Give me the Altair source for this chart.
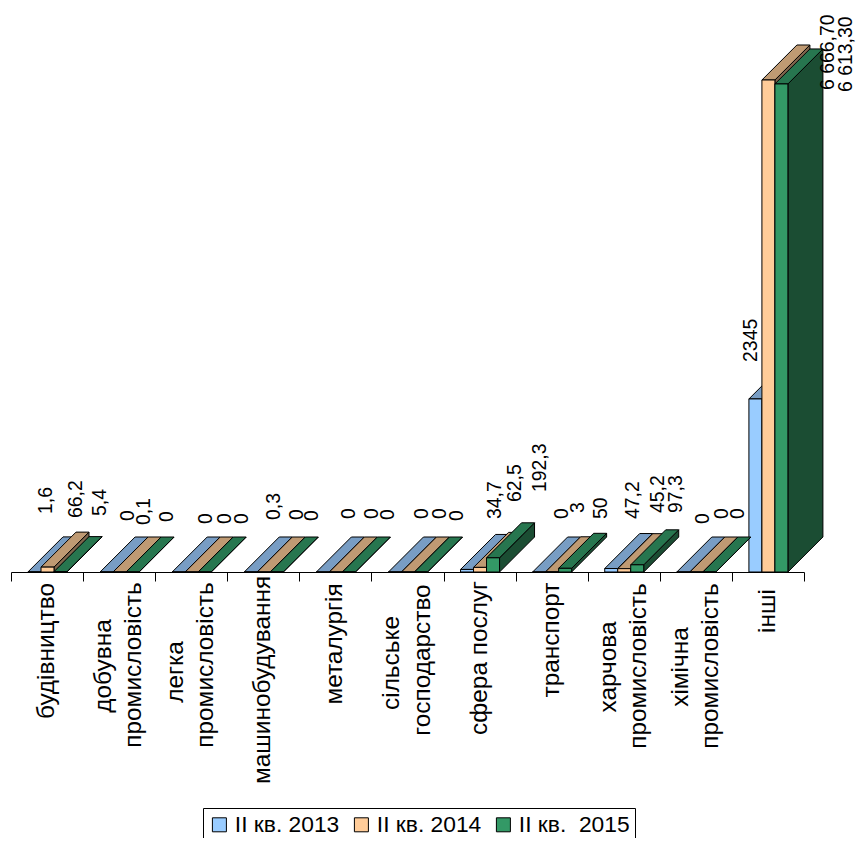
import altair as alt
import pandas as pd

categories = [
    ["будівництво"], ["добувна", "промисловість"], ["легка", "промисловість"],
    ["машинобудування"], ["металургія"], ["сільське", "господарство"],
    ["сфера послуг"], ["транспорт"], ["харчова", "промисловість"],
    ["хімічна", "промисловість"], ["інші"],
]
series = ["ІІ кв. 2013", "ІІ кв. 2014", "ІІ кв.\u00a0 2015\u00a0"]
values_2013 = [1.6, 0, 0, 0.3, 0, 0, 34.7, 0, 47.2, 0, 2345]
values_2014 = [66.2, 0.1, 0, 0, 0, 0, 62.5, 3, 45.2, 0, 6666.7]
values_2015 = [5.4, 0, 0, 0, 0, 0, 192.3, 50, 97.3, 0, 6613.3]
texts_2013 = ["1,6", "0", "0", "0,3", "0", "0", "34,7", "0", "47,2", "0", "2345"]
texts_2014 = ["66,2", "0,1", "0", "0", "0", "0", "62,5", "3", "45,2", "0", "6 666,70"]
texts_2015 = ["5,4", "0", "0", "0", "0", "0", "192,3", "50", "97,3", "0", "6 613,30"]

# label placement relative to each bar (px along x, px above the bar's front top)
label_dx = [
    [11.5, 28.5, 39.5], [21.4, 24.4, 34.4], [27.3, 33.3, 37.3], [23.2, 33.2, 35.2],
    [26.1, 36.1, 39.1], [27, 32, 36], [27.9, 34.9, 46.9], [22.8, 25.8, 35.8],
    [21.7, 33.7, 38.7], [19.6, 25.6, 28.6], [-4.5, 60, 64.5],
]
label_rise = [
    [57.9, 49.1, 55.6], [51, 47, 50], [48, 48, 48], [52, 52, 51],
    [53, 53, 52], [53, 53, 51], [50.4, 65.4, 65.8], [53, 58.8, 49.3],
    [49.5, 55.7, 51.8], [48, 53, 53], [37, -10, -8],
]
# distance of each category label's centre below the axis line, px
cat_label_drop = [
    [79], [94, 93], [100, 93], [108], [72], [91, 88], [86], [68], [95, 94], [95, 94], [39],
]

fronts = ["#99CCFF", "#FFCC99", "#339966"]
tops = ["#789DC4", "#BF9A73", "#27764F"]
sides = ["#4D6680", "#80664D", "#1B4D33"]

PW, PH = 793, 564
PX_PER_VALUE = 0.0738
PX_PER_CAT = PW / 11
DX = 35 / PX_PER_CAT
DY = 35 / PX_PER_VALUE
BAR_START = 17 / PX_PER_CAT
BAR_W = 13 / PX_PER_CAT

xs = alt.Scale(domain=[0, 11], nice=False, zero=False)
ys = alt.Scale(domain=[0, PH / PX_PER_VALUE], nice=False, zero=False)
xaxis = alt.Axis(values=list(range(12)), labels=False, title=None, grid=False,
                 tickSize=9, tickColor="black", domainColor="black",
                 tickWidth=1, domainWidth=1)
X = alt.X("x:Q", scale=xs, axis=xaxis)
Y = alt.Y("y:Q", scale=ys, axis=None)

layers = []
all_values = [values_2013, values_2014, values_2015]
all_texts = [texts_2013, texts_2014, texts_2015]
label_rows = []
for s, name in enumerate(series):
    side_rows, top_rows, front_rows = [], [], []
    for c, v in enumerate(all_values[s]):
        xl = c + BAR_START + s * BAR_W
        xr = xl + BAR_W
        side_rows += [
            {"cat": c, "x": xr, "y": 0, "y2": v},
            {"cat": c, "x": xr + DX, "y": DY, "y2": v + DY},
        ]
        top_rows += [
            {"cat": c, "y": v, "x": xl, "x2": xr},
            {"cat": c, "y": v + DY, "x": xl + DX, "x2": xr + DX},
        ]
        front_rows.append({"series": name, "x": xl, "x2": xr, "y": 0, "y2": v})
        label_rows.append({
            "x": (xl + xr) / 2 + label_dx[c][s] / PX_PER_CAT,
            "y": v + label_rise[c][s] / PX_PER_VALUE,
            "t": all_texts[s][c],
        })
    layers.append(
        alt.Chart(pd.DataFrame(side_rows))
        .mark_area(orient="vertical", fill=sides[s], stroke="black", strokeWidth=1, opacity=1)
        .encode(x=X, y=Y, y2="y2:Q", detail="cat:N")
    )
    layers.append(
        alt.Chart(pd.DataFrame(top_rows))
        .mark_area(orient="horizontal", fill=tops[s], stroke="black", strokeWidth=1, opacity=1)
        .encode(x=X, x2="x2:Q", y=Y, detail="cat:N")
    )
    layers.append(
        alt.Chart(pd.DataFrame(front_rows))
        .mark_rect(stroke="black", strokeWidth=1, opacity=1)
        .encode(
            x=X, x2="x2:Q", y=Y, y2="y2:Q",
            color=alt.Color(
                "series:N",
                title=None,
                sort=series,
                scale=alt.Scale(domain=series, range=fronts),
                legend=alt.Legend(
                    orient="none", legendX=192, legendY=800, direction="horizontal",
                    columns=3, symbolType="square", symbolSize=196,
                    symbolStrokeColor="black", symbolStrokeWidth=1, symbolOpacity=1,
                    labelFont="Liberation Sans", labelFontSize=22.8, labelColor="black",
                    labelLimit=200, labelOffset=4, columnPadding=10, padding=5,
                    strokeColor="black", fillColor="white",
                ),
            ),
        )
    )

cat_rows = []
for c, lines in enumerate(categories):
    n = len(lines)
    for i, line in enumerate(lines):
        off = (i - (n - 1) / 2) * 30.5 / PX_PER_CAT
        cat_rows.append({
            "x": c + 0.5 + off,
            "y": -cat_label_drop[c][i] / PX_PER_VALUE,
            "t": line,
        })

layers.append(
    alt.Chart(pd.DataFrame(cat_rows))
    .mark_text(angle=270, align="center", baseline="middle", font="Liberation Sans",
               fontSize=24.4, color="black")
    .encode(x=X, y=Y, text="t:N")
)
layers.append(
    alt.Chart(pd.DataFrame(label_rows))
    .mark_text(angle=270, align="left", baseline="middle", font="Liberation Sans",
               fontSize=19.4, color="black")
    .encode(x=X, y=Y, text="t:N")
)

chart = (
    alt.layer(*layers)
    .properties(
        width=PW, height=PH,
        padding={"left": 3, "top": 0, "right": 53, "bottom": 266},
        autosize=alt.AutoSizeParams(type="none"),
        background="white",
    )
    .configure_view(stroke=None)
)
chart.save("out.html", embed_options={"renderer": "svg", "actions": False})
